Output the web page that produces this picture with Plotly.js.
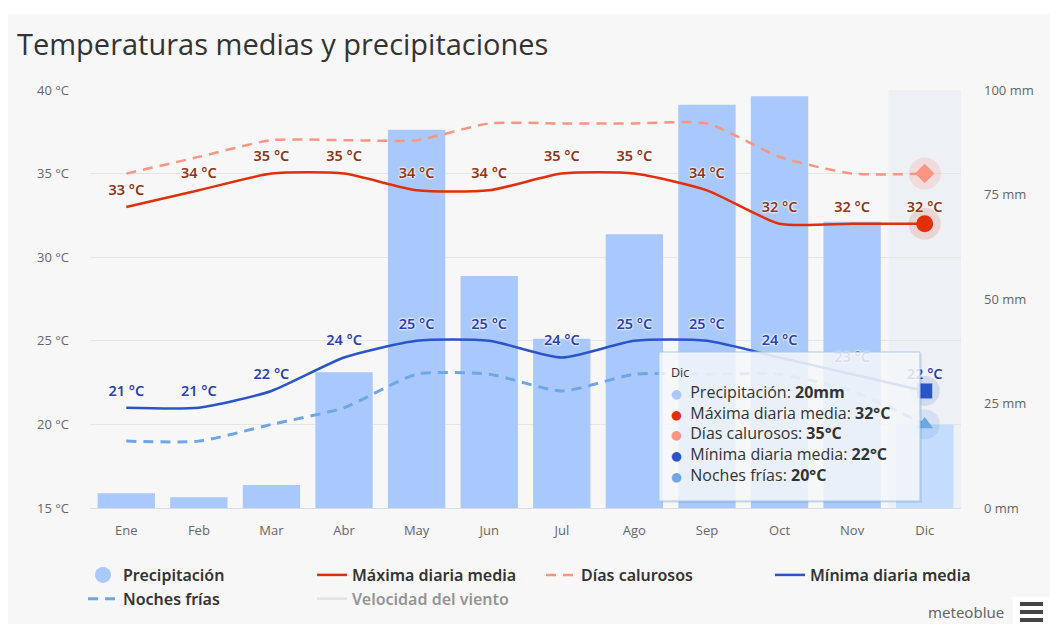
<!DOCTYPE html>
<html><head><meta charset="utf-8">
<script src="https://cdn.plot.ly/plotly-3.0.1.min.js"></script>
<style>
html,body{margin:0;padding:0;background:#fff;width:1050px;height:624px;overflow:hidden}
#chart{position:absolute;left:8px;top:14px;width:1042px;height:610px}
</style></head>
<body><div id="chart"></div>
<script>
const months = ['Ene','Feb','Mar','Abr','May','Jun','Jul','Ago','Sep','Oct','Nov','Dic'];
const precipitation = [3.5, 2.6, 5.5, 32.5, 90.5, 55.5, 40.5, 65.5, 96.5, 98.5, 68.5, 20];
const maxDaily = [33, 34, 35, 35, 34, 34, 35, 35, 34, 32, 32, 32];
const hotDays = [35, 36, 37, 37, 37, 38, 38, 38, 38, 36, 35, 35];
const minDaily = [21, 21, 22, 24, 25, 25, 24, 25, 25, 24, 23, 22];
const coldNights = [19, 19, 20, 21, 23, 23, 22, 23, 23, 23, 22, 20];
const windSpeed = [null]; // series hidden in the reference (legend only)
const tempTicks = [15, 20, 25, 30, 35, 40];
const precipTicks = [0, 25, 50, 75, 100];
const seriesNames = ['Precipitación', 'Máxima diaria media', 'Días calurosos', 'Mínima diaria media', 'Noches frías', 'Velocidad del viento'];
const titleText = 'Temperaturas medias y precipitaciones';

const C = {
  precip: '#a9c8fb', precipHover: '#c4dcfd',
  max: '#e0300b', hot: '#fa9584', min: '#2a55c8', cold: '#6ea7e6', wind: '#d0d0d0',
  maxLabel: '#8c3517', minLabel: '#2c3fb0'
};
// page pixel -> paper coords (plot area: x 90..961, y 90..508 on the page)
const px2x = px => (px - 90) / 871;
const py2y = py => (508 - py) / 418;

const last = months.length - 1;
const halo = '0 0 2px #fff, 0 0 2px #fff, 0 0 3px #fff';
const fmt = v => v + ' °C';
const SM = 0.6;

const traces = [
  { type: 'bar', x: months, y: precipitation, yaxis: 'y', name: seriesNames[0], showlegend: false,
    marker: { color: months.map((m, i) => i === last ? C.precipHover : C.precip) }, hoverinfo: 'skip' },
  { type: 'scatter', mode: 'markers', x: [months[0]], y: [null], name: seriesNames[0], yaxis: 'y',
    marker: { symbol: 'circle', size: 16, color: C.precip } },
  { type: 'scatter', mode: 'lines', x: months, y: maxDaily, yaxis: 'y2', name: seriesNames[1],
    line: { color: C.max, width: 2.5, shape: 'spline', smoothing: SM }, hoverinfo: 'skip' },
  { type: 'scatter', mode: 'lines', x: months, y: hotDays, yaxis: 'y2', name: seriesNames[2],
    line: { color: C.hot, width: 2.5, shape: 'spline', smoothing: SM, dash: '10px,7px' }, hoverinfo: 'skip' },
  { type: 'scatter', mode: 'lines', x: months, y: minDaily, yaxis: 'y2', name: seriesNames[3],
    line: { color: C.min, width: 2.5, shape: 'spline', smoothing: SM }, hoverinfo: 'skip' },
  { type: 'scatter', mode: 'lines', x: months, y: coldNights, yaxis: 'y2', name: seriesNames[4],
    line: { color: C.cold, width: 3, shape: 'spline', smoothing: SM, dash: '10px,7px' }, hoverinfo: 'skip' },
  { type: 'scatter', mode: 'lines', x: months.slice(0, windSpeed.length), y: windSpeed, yaxis: 'y2', name: seriesNames[5],
    visible: 'legendonly', line: { color: C.wind, width: 2.5 } },
  // data labels
  { type: 'scatter', mode: 'markers+text', x: months, y: maxDaily, yaxis: 'y2', showlegend: false, hoverinfo: 'skip',
    marker: { size: 12, opacity: 0 }, text: maxDaily.map(fmt), textposition: 'top center',
    textfont: { family: 'Noto Sans', size: 14.5, weight: 600, color: C.maxLabel, shadow: halo } },
  { type: 'scatter', mode: 'markers+text', x: months, y: minDaily, yaxis: 'y2', showlegend: false, hoverinfo: 'skip',
    marker: { size: 12, opacity: 0 }, text: minDaily.map(fmt), textposition: 'top center',
    textfont: { family: 'Noto Sans', size: 14.5, weight: 600, color: C.minLabel, shadow: halo } },
  // hover halos & markers on the last month
  { type: 'scatter', mode: 'markers', x: [months[last]], y: [maxDaily[last]], yaxis: 'y2', showlegend: false, hoverinfo: 'skip',
    marker: { size: 32, color: 'rgba(224,48,11,0.14)' } },
  { type: 'scatter', mode: 'markers', x: [months[last]], y: [maxDaily[last]], yaxis: 'y2', showlegend: false, hoverinfo: 'skip',
    marker: { size: 17, color: C.max } },
  { type: 'scatter', mode: 'markers', x: [months[last]], y: [hotDays[last]], yaxis: 'y2', showlegend: false, hoverinfo: 'skip',
    marker: { size: 32, color: 'rgba(250,149,132,0.22)' } },
  { type: 'scatter', mode: 'markers', x: [months[last]], y: [hotDays[last]], yaxis: 'y2', showlegend: false, hoverinfo: 'skip',
    marker: { size: 15, symbol: 'diamond', color: C.hot } },
  { type: 'scatter', mode: 'markers', x: [months[last]], y: [minDaily[last]], yaxis: 'y2', showlegend: false, hoverinfo: 'skip',
    marker: { size: 30, color: 'rgba(42,85,200,0.14)' } },
  { type: 'scatter', mode: 'markers', x: [months[last]], y: [minDaily[last]], yaxis: 'y2', showlegend: false, hoverinfo: 'skip',
    marker: { size: 15, symbol: 'square', color: C.min } },
  { type: 'scatter', mode: 'markers', x: [months[last]], y: [coldNights[last]], yaxis: 'y2', showlegend: false, hoverinfo: 'skip',
    marker: { size: 30, color: 'rgba(110,167,230,0.2)' } },
  { type: 'scatter', mode: 'markers', x: [months[last]], y: [coldNights[last]], yaxis: 'y2', showlegend: false, hoverinfo: 'skip',
    marker: { size: 15, symbol: 'triangle-up', color: C.cold } }
];

// tooltip content (one text block)
const tipRows = [
  { color: C.precip, label: seriesNames[0], value: precipitation[last] + 'mm' },
  { color: C.max, label: seriesNames[1], value: maxDaily[last] + '°C' },
  { color: C.hot, label: seriesNames[2], value: hotDays[last] + '°C' },
  { color: C.min, label: seriesNames[3], value: minDaily[last] + '°C' },
  { color: C.cold, label: seriesNames[4], value: coldNights[last] + '°C' }
];
const tipLines = ['<span style="font-size:12.5px">' + months[last] + '</span>'].concat(
  tipRows.map(r => '<span style="color:' + r.color + ';font-size:12.5px;font-family:DejaVu Sans">●</span>  ' + r.label + ': <b>' + r.value + '</b>'));
const annotations = [
  { xref: 'paper', yref: 'paper', x: px2x(669), y: py2y(362), xanchor: 'left', yanchor: 'top', align: 'left',
    text: tipLines.join('<br>'), showarrow: false, font: { family: 'Open Sans', size: 16, color: '#333' } },
  { xref: 'paper', yref: 'paper', x: px2x(1006), y: py2y(612), xanchor: 'right', yanchor: 'middle',
    text: 'meteoblue', showarrow: false, font: { family: 'Noto Sans', size: 15, color: '#666' } }
];

const shapes = [
  { type: 'rect', xref: 'x', yref: 'paper', x0: last - 0.5, x1: last + 0.5, y0: 0, y1: 1,
    fillcolor: '#edf0f5', line: { width: 0 }, layer: 'between' },
  // tooltip shadow + box
  { type: 'rect', xref: 'paper', yref: 'paper', x0: px2x(661), x1: px2x(922), y0: py2y(503), y1: py2y(354),
    fillcolor: 'rgba(0,0,0,0.07)', line: { width: 0 }, layer: 'above' },
  { type: 'rect', xref: 'paper', yref: 'paper', x0: px2x(659), x1: px2x(920), y0: py2y(501), y1: py2y(352),
    fillcolor: 'rgba(247,249,252,0.86)', line: { width: 1, color: '#a7c6ee' }, layer: 'above' },
  // menu button
  { type: 'rect', xref: 'paper', yref: 'paper', x0: px2x(1013), x1: px2x(1050), y0: py2y(624), y1: py2y(597),
    fillcolor: '#ffffff', line: { width: 0 }, layer: 'above' }
];
[604, 612, 620].forEach(cy => shapes.push({ type: 'rect', xref: 'paper', yref: 'paper',
  x0: px2x(1020), x1: px2x(1043), y0: py2y(cy + 2), y1: py2y(cy - 2), fillcolor: '#444', line: { width: 0 }, layer: 'above' }));

const tickFont = { family: 'Open Sans', size: 13, color: '#666' };
const layout = {
  width: 1042, height: 610,
  margin: { l: 82, r: 89, t: 76, b: 116, autoexpand: false },
  paper_bgcolor: '#f7f7f7', plot_bgcolor: 'rgba(0,0,0,0)',
  title: { text: titleText, xref: 'container', yref: 'container', x: 9 / 1042, xanchor: 'left',
    y: 1 - 31 / 610, yanchor: 'middle', font: { family: 'Open Sans', size: 29, color: '#333' } },
  bargap: 0.21,
  xaxis: { type: 'category', range: [-0.5, months.length - 0.5], showgrid: false, showline: true,
    linecolor: '#d8dde6', linewidth: 1, ticks: '', tickfont: tickFont, ticklabelstandoff: 10, fixedrange: true },
  yaxis: { side: 'right', range: [0, 100], tickvals: precipTicks, ticktext: precipTicks.map(v => v + ' mm'),
    showgrid: false, zeroline: false, showline: false, ticks: '', tickfont: tickFont, ticklabelstandoff: 22, fixedrange: true },
  yaxis2: { overlaying: 'y', side: 'left', range: [15, 40], tickvals: tempTicks, ticktext: tempTicks.map(fmt),
    showgrid: true, gridcolor: '#e6e6e6', gridwidth: 1, zeroline: false, showline: false, ticks: '',
    tickfont: tickFont, ticklabelstandoff: 20, fixedrange: true },
  legend: { orientation: 'h', x: px2x(83), xanchor: 'left', y: py2y(558), yanchor: 'top',
    entrywidth: 184, entrywidthmode: 'pixels', traceorder: 'normal', itemwidth: 30,
    font: { family: 'Noto Sans', size: 16, color: '#333', weight: 600 }, bgcolor: 'rgba(0,0,0,0)' },
  shapes: shapes,
  annotations: annotations,
  showlegend: true,
  hovermode: false
};
Plotly.newPlot('chart', traces, layout, { displayModeBar: false, staticPlot: true });
</script>
</body></html>
